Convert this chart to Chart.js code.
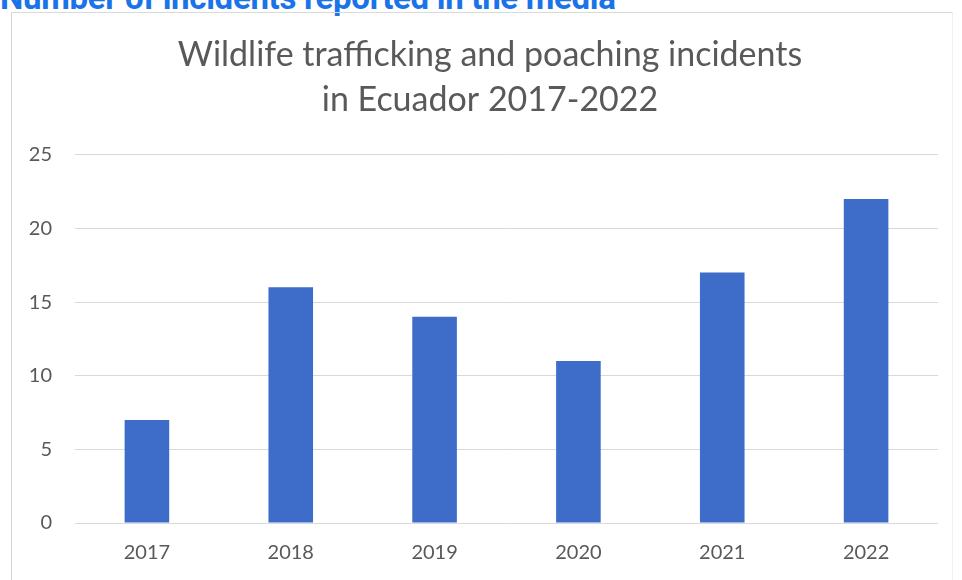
<!DOCTYPE html>
<html>
<head>
<meta charset="utf-8">
<script src="https://cdn.jsdelivr.net/npm/chart.js@4"></script>
<style>
  html, body { margin: 0; padding: 0; background: #fff; overflow: hidden; width: 962px; height: 580px; }
  .header {
    position: absolute; left: 0; top: -22px;
    font-family: Roboto, sans-serif; font-weight: 700; font-size: 33px;
    color: #1a73e8; letter-spacing: -0.3px; white-space: nowrap;
  }
  .frame {
    position: absolute; left: 11px; top: 12px;
    width: 940px; height: 600px;
    border-left: 1px solid #d4d4d4; border-top: 1px solid #d9d9d9;
    border-right: 1px solid #f0f0f0;
  }
  #chart { position: absolute; left: 13px; top: 13px; }
</style>
</head>
<body>
<div class="header">Number of incidents reported in the media</div>
<div class="frame"></div>
<canvas id="chart" width="954" height="567"></canvas>
<script>
// data
const years = ['2017', '2018', '2019', '2020', '2021', '2022'];
const incidents = [7, 16, 14, 11, 17, 22];
const titleLines = ['Wildlife trafficking and poaching incidents', 'in Ecuador 2017-2022'];

const textColor = '#595959';

const ctx = document.getElementById('chart').getContext('2d');
new Chart(ctx, {
  type: 'bar',
  data: {
    labels: years,
    datasets: [{
      label: 'Incidents',
      data: incidents,
      backgroundColor: '#3d6cc9',
      borderWidth: 0,
      categoryPercentage: 1,
      barPercentage: 0.31
    }]
  },
  options: {
    responsive: false,
    animation: false,
    layout: {
      padding: { left: 0, right: 0, top: 0, bottom: 17 }
    },
    plugins: {
      legend: { display: false },
      tooltip: { enabled: false },
      title: {
        display: true,
        text: titleLines,
        color: textColor,
        font: { family: 'Lato', size: 34, weight: 'normal', lineHeight: 1.32 },
        padding: { top: 20, bottom: 32 }
      }
    },
    scales: {
      x: {
        grid: { display: false, drawTicks: false },
        border: { display: false },
        ticks: {
          color: textColor,
          font: { family: 'Lato', size: 20 },
          padding: 18
        },
        afterFit(scale) { scale.height = 40; }
      },
      y: {
        min: 0,
        max: 25,
        ticks: {
          stepSize: 5,
          color: textColor,
          font: { family: 'Lato', size: 20 },
          padding: 23
        },
        grid: { color: '#d9d9d9', lineWidth: 1, drawTicks: false },
        border: { display: false },
        afterFit(scale) { scale.width = 62; }
      },
      // empty right-hand spacer so the plot ends where the reference does
      yRight: {
        position: 'right',
        min: 0,
        max: 25,
        grid: { display: false, drawTicks: false },
        border: { display: false },
        ticks: { display: false },
        afterFit(scale) { scale.width = 29; }
      }
    }
  }
});
</script>
</body>
</html>
